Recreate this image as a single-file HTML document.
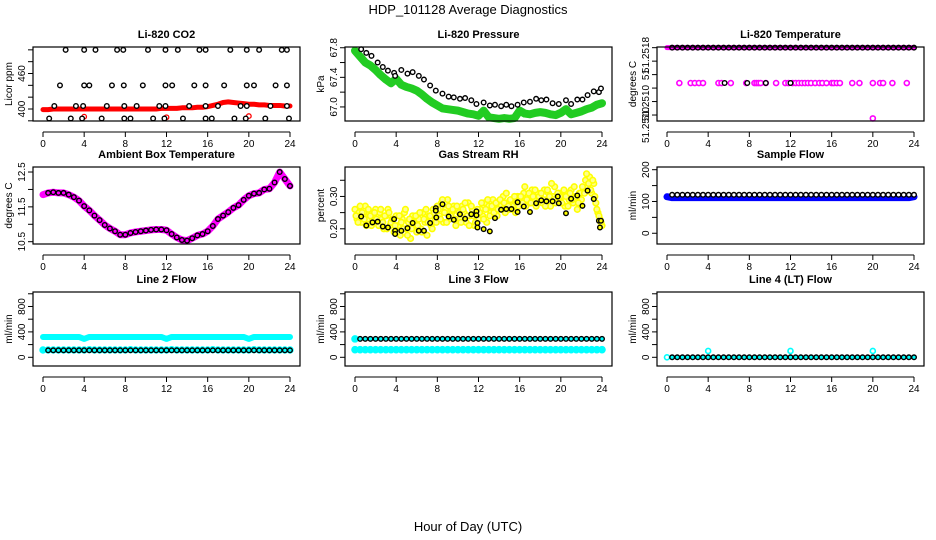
<!DOCTYPE html>
<html><head><meta charset="utf-8"><style>
body{margin:0;background:#fff}
svg{display:block;font-family:"Liberation Sans",sans-serif}
</style></head><body>
<svg id="c" width="936" height="540" viewBox="0 0 936 540" xmlns="http://www.w3.org/2000/svg">
<rect width="936" height="540" fill="#fff"/>
<text x="468" y="14" text-anchor="middle" font-size="13">HDP_101128  Average Diagnostics</text>
<text x="468" y="531" text-anchor="middle" font-size="13">Hour of Day (UTC)</text>
</svg>
<script>
const H49=[0,0.5,1,1.5,2,2.5,3,3.5,4,4.5,5,5.5,6,6.5,7,7.5,8,8.5,9,9.5,10,10.5,11,11.5,12,12.5,13,13.5,14,14.5,15,15.5,16,16.5,17,17.5,18,18.5,19,19.5,20,20.5,21,21.5,22,22.5,23,23.5,24];
const BH=[0.5,1,1.5,2,2.5,3,3.5,4,4.5,5,5.5,6,6.5,7,7.5,8,8.5,9,9.5,10,10.5,11,11.5,12,12.5,13,13.5,14,14.5,15,15.5,16,16.5,17,17.5,18,18.5,19,19.5,20,20.5,21,21.5,22,22.5,23,23.5,24];
const xTicks=[0,4,8,12,16,20,24];
// CO2
const co2Red=[399,399,400,400,400,400,400,400,400,400,400,400,400,400,400,400,400,400,400,400,400,400,400,401,401,401,401,402,402,402,403,403,404,406,408,411,412,411,410,409,408,408,407,407,406,406,406,405,405];
const co2BlackT=[2.2,4.0,5.1,7.2,7.8,10.2,11.9,13.1,15.2,15.8,18.2,19.8,21.0,23.2,23.7, 1.65,4.0,4.5,6.7,7.85,9.7,11.9,12.55,14.7,15.8,17.6,19.8,20.5,22.6,23.7, 1.1,3.2,3.9,6.2,7.9,9.1,11.3,11.9,14.2,15.8,17.0,19.2,19.8,22.1,23.7, 0.6,2.7,3.8,5.7,7.9,8.5,10.7,11.8,13.6,15.8,16.4,18.6,19.7,21.6,23.9];
const co2BlackV=[500,500,500,500,500,500,500,500,500,500,500,500,500,500,500, 440,440,440,440,440,440,440,440,440,440,440,440,440,440,440, 405,405,405,405,405,405,405,405,405,405,405,405,405,405,405, 384,384,384,384,384,384,384,384,384,384,384,384,384,384,384];
const co2RedPtT=[4,12,20];
const co2RedPtV=[387,386,388];
// Pressure
const presGreen=[67.76,67.68,67.6,67.56,67.5,67.43,67.37,67.32,67.38,67.3,67.27,67.25,67.22,67.17,67.11,67.06,67.02,66.98,66.97,66.96,66.95,66.93,66.91,66.9,66.88,66.95,66.86,66.85,66.84,66.85,66.84,66.85,66.95,66.91,66.9,66.92,66.93,66.92,66.9,66.89,66.92,66.97,66.9,66.92,66.94,66.97,66.99,67.03,67.05];
const presBlackT=[0.6,1.1,1.6,2.2,2.7,3.2,3.8,3.9,4.5,5.1,5.6,6.2,6.7,7.3,7.85,8.5,9.1,9.6,10.2,10.7,11.3,11.8,12.5,13.1,13.6,14.2,14.7,15.2,15.8,16.4,17,17.6,18.1,18.6,19.2,19.8,20.5,21,21.6,22.1,22.6,23.2,23.7,23.9];
const presBlackV=[67.78,67.73,67.69,67.6,67.54,67.49,67.46,67.42,67.5,67.45,67.47,67.42,67.37,67.29,67.22,67.18,67.14,67.13,67.11,67.12,67.09,67.04,67.06,67.02,67.03,67.01,67.03,67.01,67.03,67.06,67.07,67.11,67.09,67.1,67.05,67.04,67.09,67.04,67.1,67.1,67.16,67.21,67.2,67.25];
// Li-820 temperature
const tempTopT=[0,24];
const tempTopV=[51.2518,51.2518];
const tempBlackTopV=[51.2518,51.2518,51.2518,51.2518,51.2518,51.2518,51.2518,51.2518,51.2518,51.2518,51.2518,51.2518,51.2518,51.2518,51.2518,51.2518,51.2518,51.2518,51.2518,51.2518,51.2518,51.2518,51.2518,51.2518,51.2518,51.2518,51.2518,51.2518,51.2518,51.2518,51.2518,51.2518,51.2518,51.2518,51.2518,51.2518,51.2518,51.2518,51.2518,51.2518,51.2518,51.2518,51.2518,51.2518,51.2518,51.2518,51.2518,51.2518];
const tempMidT=[1.2,2.3,2.7,3.1,3.5,5.0,5.3,6.2,7.7,8.5,8.7,8.9,9.1,9.6,10.6,11.5,11.8,12.2,12.5,12.8,13.1,13.4,13.7,14.0,14.4,14.8,15.1,15.5,16.0,16.2,16.5,16.8,18.0,18.7,20.0,20.7,21.0,21.9,23.3,20.0];
const tempMidV=[51.25138,51.25138,51.25138,51.25138,51.25138,51.25138,51.25138,51.25138,51.25138,51.25138,51.25138,51.25138,51.25138,51.25138,51.25138,51.25138,51.25138,51.25138,51.25138,51.25138,51.25138,51.25138,51.25138,51.25138,51.25138,51.25138,51.25138,51.25138,51.25138,51.25138,51.25138,51.25138,51.25138,51.25138,51.25138,51.25138,51.25138,51.25138,51.25138,51.25096];
const tempMidBlackT=[5.6,7.8,9.6,12.0];
const tempMidBlackV=[51.25138,51.25138,51.25138,51.25138];
const tempLabelV=[51.251713,51.25148,51.251143,51.250882];
const tempLabels=['51.2518','51','51.2510','51.2510'];
// Ambient box temperature
const ambMag=[11.85,11.9,11.92,11.9,11.9,11.85,11.78,11.68,11.52,11.4,11.25,11.12,10.98,10.88,10.8,10.7,10.7,10.75,10.78,10.8,10.82,10.84,10.85,10.85,10.83,10.72,10.62,10.55,10.53,10.6,10.68,10.72,10.8,10.95,11.15,11.25,11.35,11.47,11.55,11.7,11.82,11.88,11.9,12.0,12.02,12.2,12.5,12.3,12.1];
const ambBlack=[11.9,11.92,11.9,11.9,11.85,11.78,11.68,11.52,11.4,11.25,11.12,10.98,10.88,10.8,10.7,10.7,10.75,10.78,10.8,10.82,10.84,10.85,10.85,10.83,10.72,10.62,10.55,10.53,10.6,10.68,10.72,10.8,10.95,11.15,11.25,11.35,11.47,11.55,11.7,11.82,11.88,11.9,12.0,12.02,12.2,12.5,12.3,12.1];
// Gas stream RH
const rhYellowA=[.26,.23,.25,.22,.24,.27,.23,.25,.21,.24,.26, .22,.25,.23,.20,.24,.26,.21,.23,.19,.24, .21,.18,.23,.25,.20,.22,.17,.24,.21,.19, .23,.20,.25,.22,.18,.24,.21,.26,.23,.27, .24,.28,.22,.26,.29,.23,.25,.27,.21,.26, .23,.27,.25,.22,.28,.24,.26,.21,.25,.23, .26,.24,.28,.22,.27,.25,.29,.26,.24,.28, .27,.30,.25,.28,.26,.29,.27,.25,.30,.28, .29,.31,.27,.30,.28,.32,.29,.27,.31,.30, .28,.32,.29,.31,.27,.30,.33,.29,.31,.28, .30,.27,.31,.29,.32,.28,.30,.26,.31,.29, .32,.35,.33,.36,.31,.34,.28,.25,.23,.21];
const rhYellowB=[.24,.22,.27,.25,.23,.21,.26,.24,.22,.25, .23,.21,.26,.22,.24,.20,.25,.22,.23,.21, .19,.24,.22,.20,.26,.18,.23,.20,.22,.24, .21,.25,.19,.23,.26,.22,.24,.20,.25,.22, .26,.23,.29,.25,.22,.27,.24,.26,.23,.27, .25,.22,.26,.28,.24,.21,.27,.24,.22,.26, .25,.28,.23,.26,.29,.24,.27,.25,.28,.26, .29,.26,.28,.31,.27,.29,.26,.30,.28,.27, .30,.28,.33,.29,.31,.28,.30,.32,.28,.30, .31,.29,.27,.32,.30,.34,.29,.28,.31,.30, .28,.32,.30,.27,.31,.29,.33,.30,.28,.31, .33,.31,.37,.34,.32,.35,.30,.26,.24,.22];
const rhBlackT=[0.6,1.1,1.7,2.2,2.7,3.2,3.8,3.9,3.9,4.5,5.1,5.6,6.2,6.7,7.3,7.85,7.85,7.9,8.5,9.1,9.6,10.2,10.7,11.3,11.8,11.8,11.9,11.9,12.5,13.1,13.6,14.2,14.7,15.2,15.8,15.8,16.4,17,17.6,18.1,18.6,19.2,19.7,19.8,20.5,21,21.6,22.1,22.6,23.2,23.7,23.8,23.9];
const rhBlackV=[.238,.21,.22,.222,.207,.204,.23,.194,.184,.194,.202,.218,.194,.194,.218,.264,.256,.235,.276,.238,.228,.245,.231,.245,.254,.242,.218,.204,.199,.192,.233,.259,.261,.261,.282,.252,.269,.252,.279,.288,.285,.285,.30,.279,.248,.293,.303,.271,.318,.292,.225,.204,.225];
// Sample flow
const sampBlue=[115,112,112,112,112,112,112,112,112,112,112,112,112,112,112,112,112,112,112,112,112,112,112,112,112,112,112,112,112,112,112,112,112,112,112,112,112,112,112,112,112,112,112,112,112,112,112,112,115];
const sampBlack=[121,121,121,121,121,121,121,121,121,121,121,121,121,121,121,121,121,121,121,121,121,121,121,121,121,121,121,121,121,121,121,121,121,121,121,121,121,121,121,121,121,121,121,121,121,121,121,121];
// Line 2
const l2Cyan=[320,320,320,320,320,320,320,320,290,320,320,320,320,320,320,320,320,320,320,320,320,320,320,320,290,320,320,320,320,320,320,320,320,320,320,320,320,320,320,320,290,320,320,320,320,320,320,320,320];
const l2CyanLow=[115,115,115,115,115,115,115,115,115,120,115,115,115,115,115,115,115,120,115,115,115,115,115,115,115,120,115,115,115,115,115,115,115,120,115,115,115,115,115,115,115,120,115,115,115,115,115,115,115];
const l2Black=[110,110,110,110,110,110,110,110,110,110,110,110,110,110,110,110,110,110,110,110,110,110,110,110,110,110,110,110,110,110,110,110,110,110,110,110,110,110,110,110,110,110,110,110,110,110,110,110];
// Line 3
const l3CyanT=[0,0.5,1,1.5,2,2.5,3,3.5,4,4.5,5,5.5,6,6.5,7,7.5,8,8.5,9,9.5,10,10.5,11,11.5,12,12.5,13,13.5,14,14.5,15,15.5,16,16.5,17,17.5,18,18.5,19,19.5,20,20.5,21,21.5,22,22.5,23,23.5,24,0];
const l3Cyan=[120,120,120,120,120,120,120,120,120,120,120,120,120,120,120,120,120,120,120,120,120,120,120,120,120,120,120,120,120,120,120,120,120,120,120,120,120,120,120,120,120,120,120,120,120,120,120,120,120,290];
const l3Black=[290,290,290,290,290,290,290,290,290,290,290,290,290,290,290,290,290,290,290,290,290,290,290,290,290,290,290,290,290,290,290,290,290,290,290,290,290,290,290,290,290,290,290,290,290,290,290,290];
// Line 4
const l4CyanT=[0,4,12,20];
const l4Cyan=[0,100,100,100];
const l4Black=[0,0,0,0,0,0,0,0,0,0,0,0,0,0,0,0,0,0,0,0,0,0,0,0,0,0,0,0,0,0,0,0,0,0,0,0,0,0,0,0,0,0,0,0,0,0,0,0];

const NS='http://www.w3.org/2000/svg';
const svg=document.getElementById('c');
const colL=[33,345,657], colR=[300,612,924];
const rowT=[47,167,292], rowB=[121,244,366];
function mk(tag,attrs,parent){const e=document.createElementNS(NS,tag);for(const k in attrs)e.setAttribute(k,attrs[k]);(parent||svg).appendChild(e);return e;}

function panel(c,r,title,ylab,ymin,ymax,yticks,ylabels,name){
  const L=colL[c],R=colR[c],T=rowT[r],B=rowB[r];
  const g=mk('g',{});
  
  
  const p={L,R,T,B,g,
    x:h=>L+10+(h/24)*(R-L-20),
    y:v=>B-(v-ymin)/(ymax-ymin)*(B-T)};
  const t=mk('text',{x:(L+R)/2,y:T-9,'text-anchor':'middle','font-size':11,'font-weight':'bold'},g);
  t.textContent=title;
  
  
  const yt=mk('text',{x:0,y:0,'text-anchor':'middle','font-size':10,transform:`translate(${L-21},${(T+B)/2}) rotate(-90)`},g);
  yt.textContent=ylab;
  
  
  const ax=mk('g',{},g);
  
  
  mk('line',{x1:p.x(0),x2:p.x(24),y1:B+11,y2:B+11,stroke:'#000','stroke-width':1},ax);
  xTicks.forEach(h=>{
    mk('line',{x1:p.x(h),x2:p.x(h),y1:B+11,y2:B+16,stroke:'#000','stroke-width':1},ax);
    const tl=mk('text',{x:p.x(h),y:B+26,'text-anchor':'middle','font-size':10},ax);
    tl.textContent=h;
    
    
  });
  const ay=mk('g',{},g);
  
  
  p.ay=ay;
  yticks.forEach((v,i)=>{
    const yy=p.y(v);
    mk('line',{x1:L-5,x2:L,y1:yy,y2:yy,stroke:'#000','stroke-width':1},ay);
    if(ylabels[i]) p.ylabel(v,ylabels[i]);
  });
  p.marks=mk('g',{},g);
  
  
  p.finish=()=>{
    const bx=mk('rect',{x:L,y:T,width:R-L,height:B-T,fill:'none',stroke:'#000','stroke-width':1.2},g);
    
    
  };
  return p;
}
function addLabelFn(p){}
// attach ylabel helper via prototype-like closure
const _panel=panel;
panel=function(c,r,title,ylab,ymin,ymax,yticks,ylabels,name){
  const L=colL[c],T=rowT[r],B=rowB[r];
  const yfn=v=>B-(v-ymin)/(ymax-ymin)*(B-T);
  let holder=null;
  const ylabelFn=(v,txt)=>{
    const tl=mk('text',{x:0,y:0,'text-anchor':'middle','font-size':10,transform:`translate(${L-8},${yfn(v)}) rotate(-90)`},holder||svg);
    tl.textContent=txt;
    
    
  };
  // build without labels, then add labels
  const p=_panelNoLabels(c,r,title,ylab,ymin,ymax,yticks,name);
  holder=p.ay;
  p.ylabel=ylabelFn;
  yticks.forEach((v,i)=>{ if(ylabels[i]) ylabelFn(v,ylabels[i]); });
  return p;
};
function _panelNoLabels(c,r,title,ylab,ymin,ymax,yticks,name){
  const saved=Object.prototype.ylabel;
  Object.prototype.ylabel=function(){};
  const p=_panel(c,r,title,ylab,ymin,ymax,yticks,[],name);
  if(saved===undefined) delete Object.prototype.ylabel; else Object.prototype.ylabel=saved;
  return p;
}
function band(p,xs,ys,color,w,name){
  const pts=xs.map((h,i)=>p.x(h)+','+p.y(ys[i])).join(' ');
  const e=mk('polyline',{points:pts,fill:'none',stroke:color,'stroke-width':w,'stroke-linejoin':'round','stroke-linecap':'round'},p.marks);
  
  
}
function pts(p,xs,ys,stroke,fill,r,sw,name){
  xs.forEach((h,i)=>{
    const e=mk('circle',{cx:p.x(h),cy:p.y(ys[i]),r:r,fill:fill,stroke:stroke,'stroke-width':sw},p.marks);
    
    
  });
}

// Panel 1 CO2
let p=panel(0,0,'Li-820 CO2','Licor ppm',379.7,504.8,[380,400,420,440,460,480,500],['','400','','','460','',''],'co2');
band(p,H49,co2Red,'#f00',5,'co2-red-series');
pts(p,co2RedPtT,co2RedPtV,'#f00','none',2.3,1.3,'co2-red-point');
pts(p,co2BlackT,co2BlackV,'#000','#fff',2.3,1.4,'co2-black-point');
p.finish();
// Panel 2 pressure
p=panel(1,0,'Li-820 Pressure','kPa',66.81,67.81,[67.0,67.2,67.4,67.6,67.8],['67.0','','67.4','','67.8'],'pressure');
band(p,H49,presGreen,'#2c2',8,'pressure-green-series');
pts(p,presBlackT,presBlackV,'#000','#fff',2.3,1.4,'pressure-black-point');
p.finish();
// Panel 3 temperature
p=panel(2,0,'Li-820 Temperature','degrees C',51.250929,51.251808,[51.2518,51.25164,51.25148,51.25132,51.25116,51.2510],['','','','','',''],'li820-temp');
tempLabelV.forEach((v,i)=>p.ylabel(v,tempLabels[i]));
band(p,tempTopT,tempTopV,'#f0f',5,'temp-magenta-series');
pts(p,tempMidT,tempMidV,'#f0f','#fff',2.5,1.6,'temp-magenta-point');
pts(p,BH,tempBlackTopV,'#000','#f0f',2.3,1.4,'temp-black-point');
pts(p,tempMidBlackT,tempMidBlackV,'#000','#fff',2.3,1.4,'temp-black-point');
p.finish();
// Panel 4 ambient
p=panel(0,1,'Ambient Box Temperature','degrees C',10.434,12.644,[10.5,11,11.5,12,12.5],['10.5','','11.5','','12.5'],'ambient');
band(p,H49,ambMag,'#f0f',7,'ambient-magenta-series');
pts(p,BH,ambBlack,'#000','#f0f',2.3,1.4,'ambient-black-point');
p.finish();
// Panel 5 RH
p=panel(1,1,'Gas Stream RH','percent',0.153,0.391,[0.20,0.25,0.30,0.35],['0.20','','0.30',''],'rh');
const tA=rhYellowA.map((v,i)=>i*0.2), tB=rhYellowB.map((v,i)=>0.1+i*0.2);
pts(p,tA,rhYellowA,'#ff0','#ff8',2.8,1.6,'rh-yellow-point');
pts(p,tB,rhYellowB,'#ff0','#ff8',2.8,1.6,'rh-yellow-point');
pts(p,rhBlackT,rhBlackV,'#000','#ff0',2.3,1.4,'rh-black-point');
p.finish();
// Panel 6 sample flow
p=panel(2,1,'Sample Flow','ml/min',-33.8,208.5,[0,50,100,150,200],['0','','100','','200'],'sample-flow');
band(p,H49,sampBlue,'#00f',7,'sample-blue-series');
pts(p,BH,sampBlack,'#000','#fff',2.3,1.4,'sample-black-point');
p.finish();
// Panel 7 line 2
const fT=[0,200,400,600,800,1000], fL=['0','','400','','800',''];
p=panel(0,2,'Line 2 Flow','ml/min',-137,1028,fT,fL,'line2');
band(p,H49,l2Cyan,'#0ff',6,'line2-cyan-series');
pts(p,H49,l2CyanLow,'#0ff','#0ff',3.2,1,'line2-cyan-point');
pts(p,BH,l2Black,'#000','#0ff',2.3,1.4,'line2-black-point');
p.finish();
// Panel 8 line 3
p=panel(1,2,'Line 3 Flow','ml/min',-137,1028,fT,fL,'line3');
pts(p,l3CyanT,l3Cyan,'#0ff','#0ff',3.3,1,'line3-cyan-point');
pts(p,BH,l3Black,'#000','#0ff',2.3,1.4,'line3-black-point');
p.finish();
// Panel 9 line 4
p=panel(2,2,'Line 4 (LT) Flow','ml/min',-137,1028,fT,fL,'line4');
pts(p,l4CyanT,l4Cyan,'#0ff','#fff',2.5,1.6,'line4-cyan-point');
pts(p,BH,l4Black,'#000','#0ff',2.3,1.4,'line4-black-point');
p.finish();
</script>
</body></html>
